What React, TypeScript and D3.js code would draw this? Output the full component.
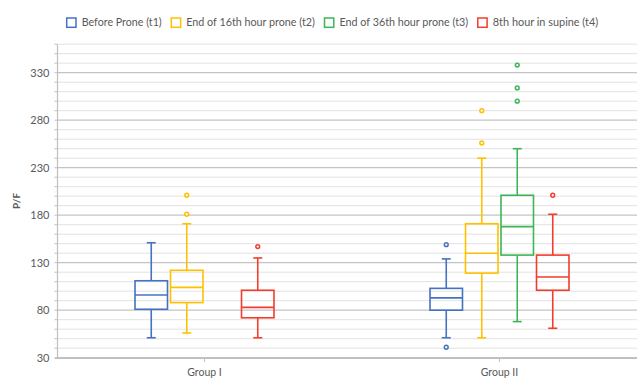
import React from "react";
import * as d3 from "d3";

const groups = ["Group I", "Group II"];
const seriesNames = [
  "Before Prone (t1)",
  "End of 16th hour prone (t2)",
  "End of 36th hour prone (t3)",
  "8th hour in supine (t4)",
];
const seriesColors = ["#4472C4", "#FFC000", "#3DB657", "#F23D2E"];
const yTicks = [30, 80, 130, 180, 230, 280, 330];

// [whiskerLow, q1, median, q3, whiskerHigh] per group, null when absent
const t1Stats = [
  [51, 81, 96, 111, 151],
  [51, 80, 93, 103, 134],
];
const t2Stats = [
  [56, 88, 104, 122, 171],
  [51, 119, 140, 171, 240],
];
const t3Stats = [null, [68, 138, 168, 201, 250]];
const t4Stats = [
  [51, 72, 83, 101, 135],
  [61, 101, 115, 138, 181],
];
const t1Outliers = [[], [41, 149]];
const t2Outliers = [[181, 201], [256, 290]];
const t3Outliers = [[], [300, 314, 338]];
const t4Outliers = [[147], [201]];

const allStats = [t1Stats, t2Stats, t3Stats, t4Stats];
const allOutliers = [t1Outliers, t2Outliers, t3Outliers, t4Outliers];

const W = 637;
const H = 378;
const FONT = "Lato, 'Liberation Sans', Arial, sans-serif";
const TEXT = "#595959";

export default function App() {
  const y = d3.scaleLinear().domain([30, 360]).range([357.7, 44.2]);
  const x0 = d3.scaleBand<string>().domain(groups).range([57, 647]).padding(0);
  const bw0 = x0.bandwidth();
  const x1 = d3
    .scaleBand<string>()
    .domain(seriesNames)
    .range([bw0 / 2 - 71, bw0 / 2 + 71])
    .paddingInner(0.085)
    .paddingOuter(0.0425);
  const bw = x1.bandwidth();
  const grid = d3.range(30, 361, 10);

  const legendWidths = [80, 128.6, 128.7, 105.4];
  let lx = 66.7;
  const legendItems = seriesNames.map((name, i) => {
    const item = { name, color: seriesColors[i], x: lx, w: legendWidths[i] };
    lx += 15 + legendWidths[i] + 9.6;
    return item;
  });

  return (
    <svg
      width={W}
      height={H}
      style={{ position: "absolute", left: 0, top: 0, background: "#fff" }}
      fontFamily={FONT}
    >
      {/* gridlines */}
      {grid.map((v) => {
        const major = (v - 30) % 50 === 0;
        return (
          <g key={v}>
            <line
              x1={57}
              x2={W}
              y1={y(v)}
              y2={y(v)}
              stroke={major ? "#c4c4c4" : "#e2e2e2"}
              strokeWidth={major ? 1.2 : 1}
            />
            <line x1={54.5} x2={57} y1={y(v)} y2={y(v)} stroke="#bfbfbf" strokeWidth={1} />
          </g>
        );
      })}
      {/* axes */}
      <line x1={57.5} x2={57.5} y1={y(360)} y2={y(30) + 1} stroke="#bfbfbf" strokeWidth={1.2} />
      <line x1={55} x2={W} y1={y(30) + 0.5} y2={y(30) + 0.5} stroke="#bfbfbf" strokeWidth={1.5} />
      {groups.map((g) => (
        <g key={g}>
          <line
            x1={x0(g)! + bw0 / 2}
            x2={x0(g)! + bw0 / 2}
            y1={y(30) + 1}
            y2={y(30) + 4}
            stroke="#bfbfbf"
            strokeWidth={1}
          />
          <text
            x={x0(g)! + bw0 / 2}
            y={376}
            textAnchor="middle"
            fontSize={10.5}
            fill={TEXT}
          >
            {g}
          </text>
        </g>
      ))}
      {yTicks.map((t) => (
        <text key={t} x={49.5} y={y(t)} dy="0.35em" textAnchor="end" fontSize={11} fill={TEXT}>
          {t}
        </text>
      ))}
      <text
        transform={`translate(20,${y(195)}) rotate(-90)`}
        textAnchor="middle"
        fontSize={10}
        fontWeight="bold"
        fill={TEXT}
      >
        P/F
      </text>

      {/* boxes */}
      {groups.map((g, gi) =>
        seriesNames.map((s, si) => {
          const st = allStats[si][gi];
          if (!st) return null;
          const [lo, q1, med, q3, hi] = st;
          const left = x0(g)! + x1(s)!;
          const cx = left + bw / 2;
          const c = seriesColors[si];
          const sw = 1.6;
          return (
            <g key={g + s} stroke={c} strokeWidth={sw} fill="none">
              <line x1={cx} x2={cx} y1={y(hi)} y2={y(q3)} />
              <line x1={cx} x2={cx} y1={y(q1)} y2={y(lo)} />
              <line x1={cx - 4.5} x2={cx + 4.5} y1={y(hi)} y2={y(hi)} />
              <line x1={cx - 4.5} x2={cx + 4.5} y1={y(lo)} y2={y(lo)} />
              <rect x={left} y={y(q3)} width={bw} height={y(q1) - y(q3)} />
              <line x1={left} x2={left + bw} y1={y(med)} y2={y(med)} />
              {allOutliers[si][gi].map((o, oi) => (
                <circle key={oi} cx={cx} cy={y(o)} r={1.9} fill="#fff" strokeWidth={1.5} />
              ))}
            </g>
          );
        })
      )}

      {/* legend */}
      {legendItems.map((it) => (
        <g key={it.name}>
          <rect
            x={it.x}
            y={18}
            width={9.3}
            height={9.3}
            fill="none"
            stroke={it.color}
            strokeWidth={1.5}
          />
          <text
            x={it.x + 15}
            y={26.3}
            fontSize={11}
            fill={TEXT}
            textLength={it.w}
            lengthAdjust="spacingAndGlyphs"
          >
            {it.name}
          </text>
        </g>
      ))}
    </svg>
  );
}
